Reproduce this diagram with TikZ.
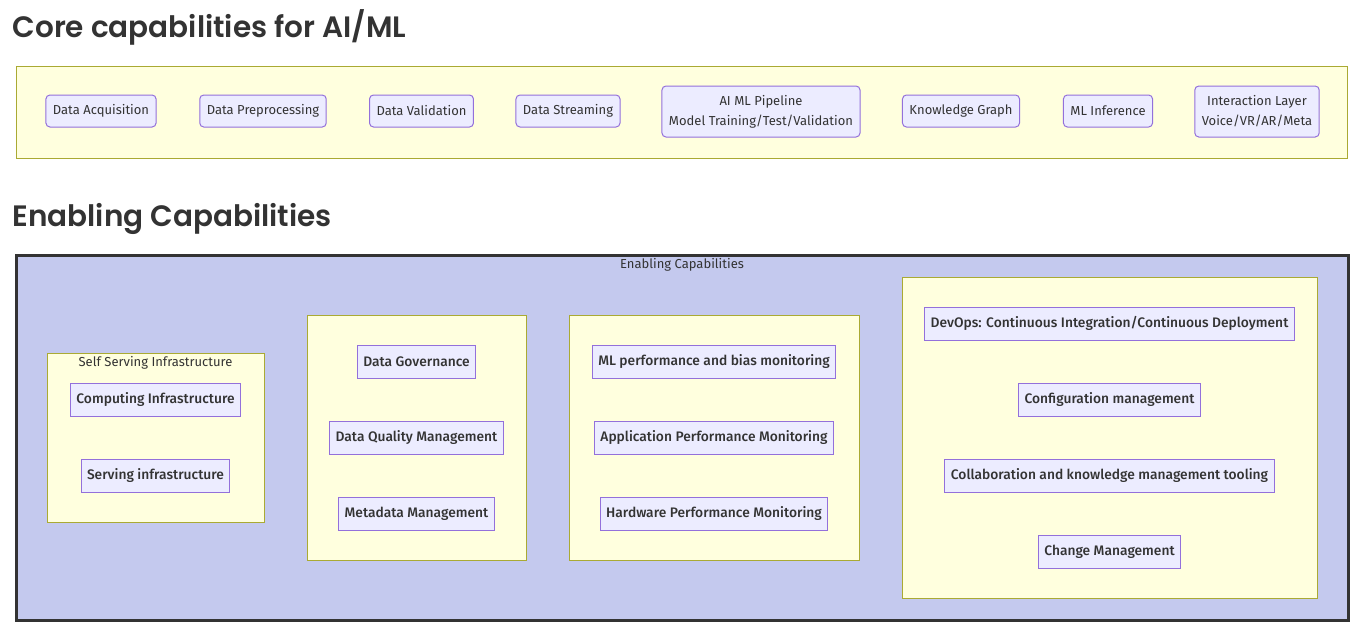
\documentclass[tikz,border=0pt]{standalone}
\usepackage{fontspec}
\setmainfont{Fira Sans}
\newfontfamily\headfont{Poppins SemiBold}
\newfontfamily\enablerfont{Fira Sans Medium}
\usepackage{xcolor}
\definecolor{HeadText}{HTML}{333333}
\definecolor{NodeFill}{HTML}{ECECFF}
\definecolor{NodeLine}{HTML}{9370DB}
\definecolor{GroupFill}{HTML}{FFFFDE}
\definecolor{GroupLine}{HTML}{AAAA33}
\definecolor{OuterFill}{HTML}{C4C9EE}
\definecolor{OuterLine}{HTML}{333333}

\begin{document}
\begin{tikzpicture}[x=1pt, y=-1pt,
		heading/.style={anchor=base west, text=HeadText, font=\headfont\fontsize{29.5}{34}\selectfont},
		corecap/.style={draw=NodeLine, fill=NodeFill, rounded corners=4pt, line width=1pt, text=HeadText,
			font=\fontsize{13}{20}\selectfont, align=center, inner xsep=7pt, minimum height=32pt},
		enabler/.style={draw=NodeLine, fill=NodeFill, line width=1pt, text=HeadText,
			font=\enablerfont\fontsize{13.8}{20}\selectfont, inner xsep=6pt, minimum height=33pt},
		group/.style={draw=GroupLine, fill=GroupFill, line width=1pt, inner sep=0pt},
		grouplabel/.style={text=HeadText, font=\fontsize{13}{16}\selectfont}]
		\useasboundingbox (0,0) rectangle (1361,630);

		% headings
		\node[heading] (coretitle) at (9,37) {Core capabilities for AI/ML};
		\node[heading] (enabletitle) at (9,226) {Enabling Capabilities};

		% core capabilities row
		\node[group, minimum width=1331pt, minimum height=92pt] (core) at (681.5,112) {};
		\node[corecap] (acq) at (101,111) {Data Acquisition};
		\node[corecap] (prep) at (263,111) {Data Preprocessing};
		\node[corecap] (valid) at (421.5,111) {Data Validation};
		\node[corecap] (stream) at (568,111) {Data Streaming};
		\node[corecap, minimum height=51pt] (pipe) at (761,111.5) {AI ML Pipeline\\Model Training/Test/Validation};
		\node[corecap] (kgraph) at (961,111) {Knowledge Graph};
		\node[corecap] (infer) at (1108,111) {ML Inference};
		\node[corecap, minimum height=51pt] (interact) at (1257,111.5) {Interaction Layer\\Voice/VR/AR/Meta};

		% enabling capabilities
		\node[fill=OuterFill, draw=OuterLine, line width=3pt, minimum width=1332pt, minimum height=365pt] (enable) at (682,437.5) {};
		\node[grouplabel] (enablelabel) at (682,265) {Enabling Capabilities};

		% self serving infrastructure
		\node[group, minimum width=217pt, minimum height=169pt] (selfserv) at (155.5,437.5) {};
		\node[grouplabel] (selfservlabel) at (155.5,363) {Self Serving Infrastructure};
		\node[enabler] (compute) at (155.5,399.5) {Computing Infrastructure};
		\node[enabler] (serving) at (155.5,475.5) {Serving infrastructure};

		% data management
		\node[group, minimum width=219pt, minimum height=245pt] (datamgmt) at (416.5,437.5) {};
		\node[enabler] (govern) at (416.5,361.5) {Data Governance};
		\node[enabler] (quality) at (416.5,437.5) {Data Quality Management};
		\node[enabler] (meta) at (416.5,513.5) {Metadata Management};

		% monitoring
		\node[group, minimum width=290pt, minimum height=245pt] (monitor) at (714,437.5) {};
		\node[enabler] (mlperf) at (714,361.5) {ML performance and bias monitoring};
		\node[enabler] (appperf) at (714,437.5) {Application Performance Monitoring};
		\node[enabler] (hwperf) at (714,513.5) {Hardware Performance Monitoring};

		% operations
		\node[group, minimum width=415pt, minimum height=321pt] (ops) at (1109.5,437.5) {};
		\node[enabler] (devops) at (1109.5,323.5) {DevOps: Continuous Integration/Continuous Deployment};
		\node[enabler] (config) at (1109.5,399.5) {Configuration management};
		\node[enabler] (collab) at (1109.5,475.5) {Collaboration and knowledge management tooling};
		\node[enabler] (change) at (1109.5,551.5) {Change Management};
	\end{tikzpicture}
\end{document}
